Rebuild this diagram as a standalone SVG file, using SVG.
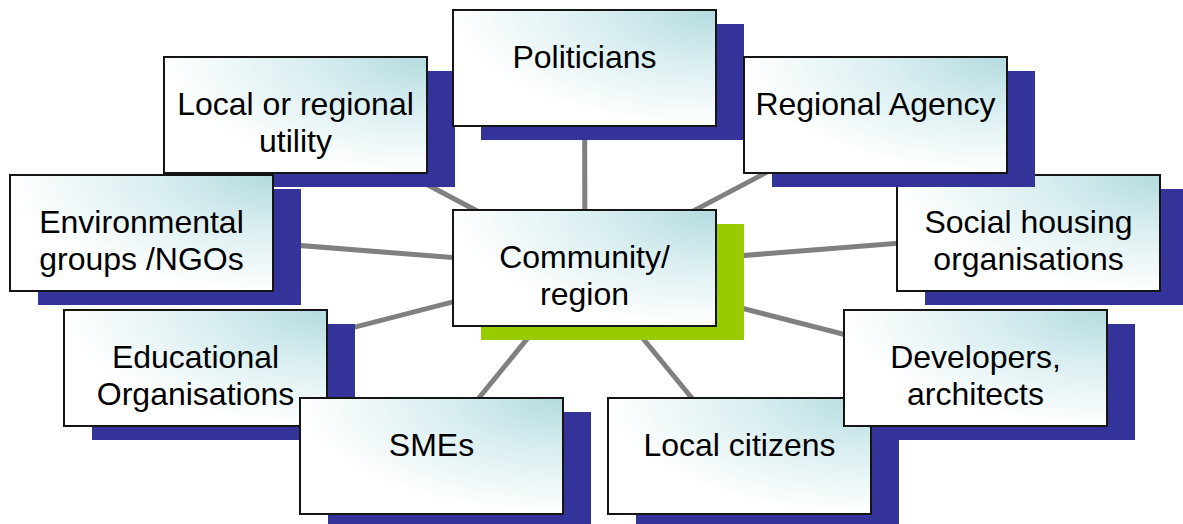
<svg xmlns="http://www.w3.org/2000/svg" width="1183" height="524" viewBox="0 0 1183 524">
  <defs>
    <!-- pale teal glow from the top-right corner of every box -->
    <radialGradient id="boxFill" cx="1" cy="0" r="1">
      <stop offset="0" stop-color="#B3DBDF"/>
      <stop offset="0.45" stop-color="#D9EEF0"/>
      <stop offset="1" stop-color="#FFFFFF"/>
    </radialGradient>
    <style>
      .shadow { fill: #333399; }
      .shadow.hub { fill: #99CC00; }
      .box { fill: url(#boxFill); stroke: #151515; stroke-width: 2; }
      .label { font-family: "Liberation Sans", Arial, sans-serif; font-size: 32px; fill: #000; text-anchor: middle; }
      .link { stroke: #808080; stroke-width: 5; fill: none; }
    </style>
  </defs>

  <rect width="1183" height="524" fill="#FFFFFF"/>

  <!-- spokes: hub centre (585,268) to each stakeholder centre -->
  <g id="connectors">
    <line class="link" x1="585" y1="268" x2="584.5" y2="68"/>
    <line class="link" x1="585" y1="268" x2="295.5" y2="115"/>
    <line class="link" x1="585" y1="268" x2="875.5" y2="115"/>
    <line class="link" x1="585" y1="268" x2="141.5" y2="233"/>
    <line class="link" x1="585" y1="268" x2="1028.5" y2="233"/>
    <line class="link" x1="585" y1="268" x2="195.5" y2="368"/>
    <line class="link" x1="585" y1="268" x2="975.5" y2="368"/>
    <line class="link" x1="585" y1="268" x2="431.5" y2="456"/>
    <line class="link" x1="585" y1="268" x2="739.5" y2="456"/>
  </g>

  <g id="node-utility" transform="translate(164,57)">
    <rect class="shadow" x="28" y="14" width="263" height="116"/>
    <rect class="box" width="263" height="116"/>
    <text class="label" x="131.5" y="57.5">Local or regional</text>
    <text class="label" x="131.5" y="95">utility</text>
  </g>

  <g id="node-politicians" transform="translate(453,10)">
    <rect class="shadow" x="28" y="14" width="263" height="116"/>
    <rect class="box" width="263" height="116"/>
    <text class="label" x="131.5" y="58">Politicians</text>
  </g>

  <g id="node-environmental" transform="translate(10,175)">
    <rect class="shadow" x="28" y="14" width="263" height="116"/>
    <rect class="box" width="263" height="116"/>
    <text class="label" x="131.5" y="57.5">Environmental</text>
    <text class="label" x="131.5" y="95">groups /NGOs</text>
  </g>

  <g id="node-educational" transform="translate(64,310)">
    <rect class="shadow" x="28" y="14" width="263" height="116"/>
    <rect class="box" width="263" height="116"/>
    <text class="label" x="131.5" y="57.5">Educational</text>
    <text class="label" x="131.5" y="95">Organisations</text>
  </g>

  <g id="node-smes" transform="translate(300,398)">
    <rect class="shadow" x="28" y="14" width="263" height="116"/>
    <rect class="box" width="263" height="116"/>
    <text class="label" x="131.5" y="57.5">SMEs</text>
  </g>

  <g id="node-citizens" transform="translate(608,398)">
    <rect class="shadow" x="28" y="14" width="263" height="116"/>
    <rect class="box" width="263" height="116"/>
    <text class="label" x="131.5" y="57.5">Local citizens</text>
  </g>

  <g id="node-developers" transform="translate(844,310)">
    <rect class="shadow" x="28" y="14" width="263" height="116"/>
    <rect class="box" width="263" height="116"/>
    <text class="label" x="131.5" y="57.5">Developers,</text>
    <text class="label" x="131.5" y="95">architects</text>
  </g>

  <g id="node-social-housing" transform="translate(897,175)">
    <rect class="shadow" x="28" y="14" width="263" height="116"/>
    <rect class="box" width="263" height="116"/>
    <text class="label" x="131.5" y="57.5">Social housing</text>
    <text class="label" x="131.5" y="95">organisations</text>
  </g>

  <g id="node-regional-agency" transform="translate(744,57)">
    <rect class="shadow" x="28" y="14" width="263" height="116"/>
    <rect class="box" width="263" height="116"/>
    <text class="label" x="131.5" y="57.5">Regional Agency</text>
  </g>

  <g id="node-community" transform="translate(453,210)">
    <rect class="shadow hub" x="28" y="14" width="263" height="116"/>
    <rect class="box" width="263" height="116"/>
    <text class="label" x="131.5" y="57.5">Community/</text>
    <text class="label" x="131.5" y="95">region</text>
  </g>
</svg>
